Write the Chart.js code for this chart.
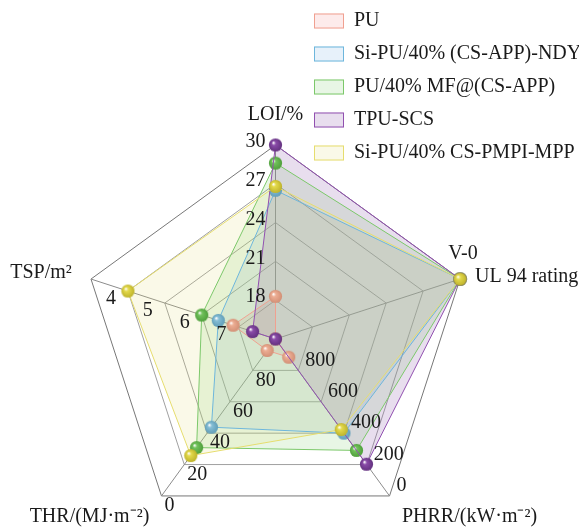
<!DOCTYPE html>
<html>
<head>
<meta charset="utf-8">
<script src="https://cdn.jsdelivr.net/npm/chart.js@4.4.1/dist/chart.umd.min.js"></script>
<style>
  body { margin: 0; background: #fff; }
</style>
</head>
<body>
<canvas id="myChart" width="579" height="529"></canvas>
<script>
var axisTitles = ["LOI/%", "UL 94 rating", "PHRR/(kW·m⁻²)", "THR/(MJ·m⁻²)", "TSP/m²"];
var seriesNames = ["PU", "Si-PU/40% (CS-APP)-NDY", "PU/40% MF@(CS-APP)", "TPU-SCS", "Si-PU/40% CS-PMPI-MPP"];

var loiValues = [18.3, 26.5, 28.6, 30.0, 26.8];
var ulValues = ["NR", "V-0", "V-0", "V-0", "V-0"];
var phrrValues = [884, 400, 290, 202, 423];
var thrValues = [92.7, 43.8, 30.8, 100, 25.7];
var tspValues = [6.85, 6.45, 6.0, 7.38, 4.0];

var loiTicks = [18, 21, 24, 27, 30];
var ulTicks = ["V-0"];
var phrrTicks = [800, 600, 400, 200, 0];
var thrTicks = [80, 60, 40, 20, 0];
var tspTicks = [7, 6, 5, 4];

// value at the centre, value at the outer ring
var loiRange = [15, 30];
var ulRange = ["NR", "V-0"];
var phrrRange = [1000, 0];
var thrRange = [100, 0];
var tspRange = [8, 3];

var lineColors = ["#F0A090", "#6DB6DC", "#7CC86A", "#9150B0", "#E6DD6E"];
var fillColors = ["rgba(240,120,120,0.15)", "rgba(120,180,230,0.18)", "rgba(120,200,100,0.17)", "rgba(140,90,170,0.2)", "rgba(225,220,120,0.17)"];
var ballColors = ["#EDAE94", "#86BFD6", "#72C25C", "#8A4BA8", "#E4DA4C"];
var ballDark = ["#D28E74", "#5F9CB6", "#4E9E3A", "#62307E", "#BDB22A"];

var RINGS = 5;
var serif = '"Liberation Serif", "Times New Roman", serif';

function ring(v, range) {
  return (v - range[0]) / (range[1] - range[0]) * RINGS;
}

function ulRing(v) {
  return ulRange.indexOf(v) * RINGS;
}

function makeBall(color, dark) {
  var size = 15;
  var c = document.createElement('canvas');
  c.width = size;
  c.height = size;
  var g = c.getContext('2d');
  var grad = g.createRadialGradient(size / 2 - 2.2, size / 2 - 2.4, 0.3, size / 2, size / 2, 6.8);
  grad.addColorStop(0, '#ffffff');
  grad.addColorStop(0.28, color);
  grad.addColorStop(1, dark);
  g.fillStyle = grad;
  g.beginPath();
  g.arc(size / 2, size / 2, 6.6, 0, Math.PI * 2);
  g.fill();
  return c;
}

var datasets = seriesNames.map(function (name, i) {
  return {
    label: name,
    data: [
      ring(loiValues[i], loiRange),
      ulRing(ulValues[i]),
      ring(phrrValues[i], phrrRange),
      ring(thrValues[i], thrRange),
      ring(tspValues[i], tspRange)
    ],
    borderColor: lineColors[i],
    backgroundColor: fillColors[i],
    borderWidth: 1,
    fill: true,
    clip: false,
    pointStyle: makeBall(ballColors[i], ballDark[i]),
    pointRadius: 7,
    order: seriesNames.length - i
  };
});

var axisText = {
  id: 'axisText',
  afterDraw: function (chart) {
    var r = chart.scales.r;
    var ctx = chart.ctx;
    function at(i, v) { return r.getPointPositionForValue(i, v); }
    ctx.save();
    ctx.fillStyle = '#1a1a1a';
    ctx.font = '20px ' + serif;
    ctx.textBaseline = 'middle';

    ctx.textAlign = 'right';
    loiTicks.forEach(function (t) {
      var p = at(0, ring(t, loiRange));
      ctx.fillText(t, p.x - 10, p.y - 3);
    });
    ctx.textAlign = 'left';
    phrrTicks.forEach(function (t) {
      var p = at(2, ring(t, phrrRange));
      ctx.fillText(t, p.x + 7, p.y - 10);
    });
    thrTicks.forEach(function (t) {
      var p = at(3, ring(t, thrRange));
      ctx.fillText(t, p.x + 3, p.y + 10);
    });
    ctx.textAlign = 'center';
    tspTicks.forEach(function (t) {
      var p = at(4, ring(t, tspRange));
      ctx.fillText(t, p.x - 17, p.y + 8);
    });
    ulTicks.forEach(function (t) {
      var p = at(1, ulRing(t));
      ctx.fillText(t, p.x + 3, p.y - 25);
    });

    // axis titles
    var p = at(0, RINGS);
    ctx.fillText(axisTitles[0], p.x, p.y - 30);
    p = at(1, RINGS);
    ctx.textAlign = 'left';
    ctx.fillText(axisTitles[1], p.x + 15, p.y - 2);
    ctx.textAlign = 'center';
    p = at(2, RINGS);
    ctx.fillText(axisTitles[2], p.x + 80, p.y + 21);
    p = at(3, RINGS);
    ctx.fillText(axisTitles[3], p.x - 72, p.y + 21);
    p = at(4, RINGS);
    ctx.fillText(axisTitles[4], p.x - 50, p.y - 6);

    // legend, top right
    ctx.textAlign = 'left';
    chart.data.datasets.forEach(function (ds, i) {
      var y = 21 + i * 33;
      ctx.fillStyle = '#fff';
      ctx.fillRect(314, y - 7.5, 30, 15);
      ctx.fillStyle = ds.backgroundColor;
      ctx.fillRect(314, y - 7.5, 30, 15);
      ctx.strokeStyle = ds.borderColor;
      ctx.lineWidth = 1;
      ctx.strokeRect(314.5, y - 7, 29, 14);
      ctx.fillStyle = '#1a1a1a';
      ctx.fillText(ds.label, 354, y);
    });
    ctx.restore();
  }
};

new Chart("myChart", {
  type: "radar",
  data: {
    labels: axisTitles,
    datasets: datasets
  },
  options: {
    responsive: false,
    animation: false,
    layout: { padding: 0 },
    scales: {
      r: {
        min: 0,
        max: RINGS,
        ticks: { display: false, stepSize: 1 },
        pointLabels: { display: false },
        grid: {
          color: function (c) { return c.index === RINGS ? '#777' : '#a0a0a0'; },
          lineWidth: 1
        },
        angleLines: { color: '#8c8c8c', lineWidth: 1 },
        afterFit: function (scale) {
          scale.xCenter = 275.5;
          scale.yCenter = 339;
          scale.drawingArea = 194;
        }
      }
    },
    plugins: {
      tooltip: { enabled: false },
      legend: { display: false },
      filler: { drawTime: 'beforeDatasetsDraw' }
    }
  },
  plugins: [axisText]
});
</script>
</body>
</html>
